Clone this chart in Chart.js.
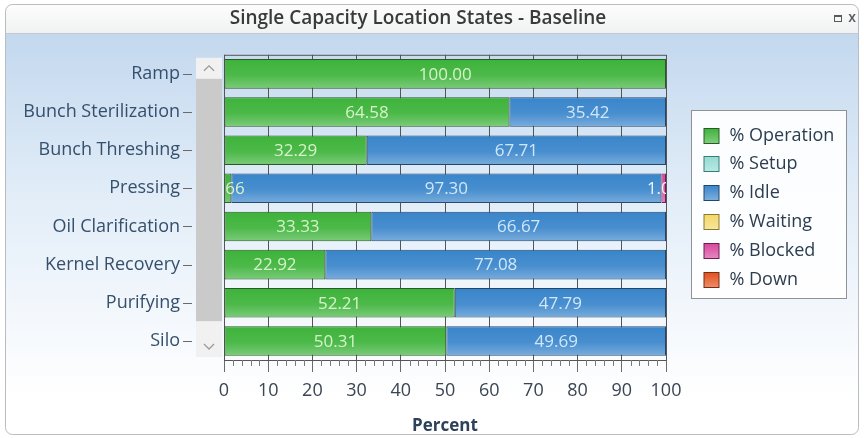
<!DOCTYPE html>
<html>
<head>
<meta charset="utf-8">
<script src="https://cdn.jsdelivr.net/npm/chart.js@4/dist/chart.umd.min.js"></script>
<style>
  html, body { margin: 0; padding: 0; background: #ffffff; }
  canvas { display: block; }
</style>
</head>
<body>
<canvas id="chart" width="864" height="438"></canvas>
<script>
// ---- data ----
const chartTitle = 'Single Capacity Location States - Baseline';
const locations = ['Ramp', 'Bunch Sterilization', 'Bunch Threshing', 'Pressing',
                   'Oil Clarification', 'Kernel Recovery', 'Purifying', 'Silo'];
const pctOperation = [100.00, 64.58, 32.29, 1.66, 33.33, 22.92, 52.21, 50.31];
const pctSetup     = [0, 0, 0, 0, 0, 0, 0, 0];
const pctIdle      = [0, 35.42, 67.71, 97.30, 66.67, 77.08, 47.79, 49.69];
const pctWaiting   = [0, 0, 0, 0, 0, 0, 0, 0];
const pctBlocked   = [0, 0, 0, 1.04, 0, 0, 0, 0];
const pctDown      = [0, 0, 0, 0, 0, 0, 0, 0];
const percentTicks = [0, 10, 20, 30, 40, 50, 60, 70, 80, 90, 100];

const FONT = '"Open Sans", "Noto Sans", sans-serif';

// state series: label, fill, outline, value-label colour
const states = [
  { label: '% Operation', data: pctOperation, fill: '#3db33a', line: '#2a5a27', text: '#d6f3cb' },
  { label: '% Setup',     data: pctSetup,     fill: '#93dcd5', line: '#3d7a75', text: '#ffffff' },
  { label: '% Idle',      data: pctIdle,      fill: '#3985cb', line: '#22476b', text: '#d0e7f8' },
  { label: '% Waiting',   data: pctWaiting,   fill: '#f3d868', line: '#8a7a30', text: '#ffffff' },
  { label: '% Blocked',   data: pctBlocked,   fill: '#d8479e', line: '#6a2050', text: '#f4f4f4' },
  { label: '% Down',      data: pctDown,      fill: '#e2501c', line: '#7a2a10', text: '#ffffff' }
];

// ---- window frame, title bar and background ----
function roundRectPath(ctx, x, y, w, h, r) {
  ctx.beginPath();
  ctx.moveTo(x + r, y);
  ctx.lineTo(x + w - r, y);
  ctx.arcTo(x + w, y, x + w, y + r, r);
  ctx.lineTo(x + w, y + h - r);
  ctx.arcTo(x + w, y + h, x + w - r, y + h, r);
  ctx.lineTo(x + r, y + h);
  ctx.arcTo(x, y + h, x, y + h - r, r);
  ctx.lineTo(x, y + r);
  ctx.arcTo(x, y, x + r, y, r);
  ctx.closePath();
}

const windowChrome = {
  id: 'windowChrome',
  beforeDraw(chart) {
    const { ctx, width, height } = chart;
    ctx.save();
    ctx.fillStyle = '#ffffff';
    ctx.fillRect(0, 0, width, height);

    const fx = 5.5, fy = 4.5, fw = width - 11, fh = height - 8, barH = 29;
    roundRectPath(ctx, fx, fy, fw, fh, 7);
    ctx.save();
    ctx.clip();
    const body = ctx.createLinearGradient(0, fy + barH, 0, height - 40);
    body.addColorStop(0, '#c3d8ee');
    body.addColorStop(0.45, '#e2edf8');
    body.addColorStop(1, '#ffffff');
    ctx.fillStyle = body;
    ctx.fillRect(0, 0, width, height);
    const bar = ctx.createLinearGradient(0, fy, 0, fy + barH);
    bar.addColorStop(0, '#fdfdfd');
    bar.addColorStop(1, '#f0f1f2');
    ctx.fillStyle = bar;
    ctx.fillRect(0, 0, width, fy + barH);
    ctx.strokeStyle = '#c5cad0';
    ctx.lineWidth = 1;
    ctx.beginPath();
    ctx.moveTo(0, fy + barH);
    ctx.lineTo(width, fy + barH);
    ctx.stroke();
    ctx.restore();

    roundRectPath(ctx, fx, fy, fw, fh, 7);
    ctx.strokeStyle = '#b9bdc2';
    ctx.lineWidth = 1;
    ctx.stroke();

    // title
    ctx.fillStyle = '#3a3a3a';
    ctx.font = '600 19px ' + FONT;
    ctx.textAlign = 'center';
    ctx.textBaseline = 'middle';
    ctx.fillText(chartTitle, 418, 19);

    // restore / close buttons
    ctx.strokeStyle = '#5a5a5a';
    ctx.lineWidth = 1;
    ctx.strokeRect(834.5, 15.5, 7, 6);
    ctx.fillStyle = '#5a5a5a';
    ctx.fillRect(834, 15, 8, 2);
    ctx.font = '600 14px ' + FONT;
    ctx.fillText('x', 852, 18);
    ctx.restore();
  }
};

// ---- scrollbar and category tick dashes beside the plot ----
const sideDecor = {
  id: 'sideDecor',
  afterDraw(chart) {
    const { ctx, chartArea } = chart;
    const yScale = chart.scales.y;
    const sx = chartArea.left - 28, sw = 26;
    const top = chartArea.top + 3, bottom = chartArea.bottom - 3;
    ctx.save();
    ctx.fillStyle = '#f1f1f1';
    ctx.fillRect(sx, top, sw, bottom - top);
    ctx.fillStyle = '#cacaca';
    ctx.fillRect(sx, top + 21, sw, (bottom - top) * 0.81);
    ctx.strokeStyle = '#9a9a9a';
    ctx.lineWidth = 1.3;
    const cx = sx + sw / 2;
    ctx.beginPath();
    ctx.moveTo(cx - 5, top + 13); ctx.lineTo(cx, top + 8); ctx.lineTo(cx + 5, top + 13);
    ctx.stroke();
    ctx.beginPath();
    ctx.moveTo(cx - 5, bottom - 13); ctx.lineTo(cx, bottom - 8); ctx.lineTo(cx + 5, bottom - 13);
    ctx.stroke();

    ctx.strokeStyle = '#6a6a6a';
    ctx.lineWidth = 1;
    yScale.ticks.forEach((t, i) => {
      const y = Math.round(yScale.getPixelForTick(i)) + 0.5;
      ctx.beginPath();
      ctx.moveTo(sx - 13, y);
      ctx.lineTo(sx - 4, y);
      ctx.stroke();
    });
    ctx.restore();
  }
};

// ---- minor ticks on the percent axis ----
const minorTicks = {
  id: 'minorTicks',
  afterDraw(chart) {
    const { ctx, chartArea } = chart;
    const xScale = chart.scales.x;
    ctx.save();
    ctx.strokeStyle = '#7a7a7a';
    ctx.lineWidth = 1;
    for (let v = 2; v < 100; v += 2) {
      if (v % 10 === 0) continue;
      const x = Math.round(xScale.getPixelForValue(v)) + 0.5;
      ctx.beginPath();
      ctx.moveTo(x, chartArea.bottom);
      ctx.lineTo(x, chartArea.bottom + 6);
      ctx.stroke();
    }
    ctx.restore();
  }
};

// ---- bar shading and value labels ----
const barLabels = {
  id: 'barLabels',
  afterDatasetsDraw(chart) {
    const { ctx, chartArea } = chart;
    ctx.save();
    ctx.beginPath();
    ctx.rect(chartArea.left, chartArea.top, chartArea.right - chartArea.left, chartArea.bottom - chartArea.top);
    ctx.clip();
    chart.data.datasets.forEach((ds, di) => {
      const meta = chart.getDatasetMeta(di);
      meta.data.forEach((el, i) => {
        const v = ds.data[i];
        if (!(v > 0)) return;
        const { x, y, base, height } = el.getProps(['x', 'y', 'base', 'height'], true);
        const l = Math.min(x, base), w = Math.abs(x - base);
        const g = ctx.createLinearGradient(0, y - height / 2, 0, y + height / 2);
        g.addColorStop(0, 'rgba(255,255,255,0.0)');
        g.addColorStop(0.55, 'rgba(255,255,255,0.08)');
        g.addColorStop(1, 'rgba(255,255,255,0.32)');
        ctx.fillStyle = g;
        ctx.fillRect(l + 1, y - height / 2 + 1, w - 2, height - 2);
      });
    });
    ctx.font = '17px ' + FONT;
    ctx.textAlign = 'center';
    ctx.textBaseline = 'middle';
    chart.data.datasets.forEach((ds, di) => {
      const meta = chart.getDatasetMeta(di);
      meta.data.forEach((el, i) => {
        const v = ds.data[i];
        if (!(v > 0)) return;
        const { x, y, base } = el.getProps(['x', 'y', 'base'], true);
        ctx.fillStyle = states[di].text;
        ctx.fillText(v.toFixed(2), (x + base) / 2, y + 1);
      });
    });
    ctx.restore();
  }
};

// ---- plot border ----
const plotFrame = {
  id: 'plotFrame',
  beforeDatasetsDraw(chart) {
    const { ctx, chartArea } = chart;
    ctx.save();
    ctx.strokeStyle = '#555555';
    ctx.lineWidth = 1;
    ctx.beginPath();
    ctx.moveTo(chartArea.left, chartArea.top + 0.5);
    ctx.lineTo(chartArea.right, chartArea.top + 0.5);
    ctx.stroke();
    ctx.restore();
  }
};

// ---- legend box ----
const stateLegend = {
  id: 'stateLegend',
  afterDraw(chart) {
    const { ctx, chartArea } = chart;
    const bx = chartArea.right + 25.5, bw = 155;
    const rowH = 28.8;
    const bh = 188;
    const by = 110.5;
    ctx.save();
    ctx.fillStyle = 'rgba(255,255,255,0.9)';
    ctx.fillRect(bx, by, bw, bh);
    ctx.strokeStyle = '#8e9297';
    ctx.lineWidth = 1;
    ctx.strokeRect(bx, by, bw, bh);
    ctx.font = '18px ' + FONT;
    ctx.textAlign = 'left';
    ctx.textBaseline = 'middle';
    chart.data.datasets.forEach((ds, i) => {
      const cy = by + 25 + i * rowH;
      const sx = bx + 12.5, sy = Math.round(cy - 8) + 0.5;
      ctx.fillStyle = ds.backgroundColor;
      ctx.fillRect(sx, sy, 15, 15);
      const g = ctx.createLinearGradient(0, sy, 0, sy + 15);
      g.addColorStop(0, 'rgba(255,255,255,0)');
      g.addColorStop(1, 'rgba(255,255,255,0.35)');
      ctx.fillStyle = g;
      ctx.fillRect(sx, sy, 15, 15);
      ctx.strokeStyle = states[i].line;
      ctx.strokeRect(sx, sy, 15, 15);
      ctx.fillStyle = '#2c3d4f';
      ctx.fillText(ds.label, bx + 38, cy);
    });
    ctx.restore();
  }
};

const datasets = states.map(s => ({
  label: s.label,
  data: s.data,
  backgroundColor: s.fill,
  borderColor: s.line,
  borderWidth: c => (c.raw > 0 ? 1 : 0),
  borderSkipped: false,
  barPercentage: 0.9,
  categoryPercentage: 0.86
}));

new Chart(document.getElementById('chart'), {
  type: 'bar',
  data: { labels: locations, datasets },
  options: {
    indexAxis: 'y',
    responsive: false,
    animation: false,
    events: [],
    layout: { padding: { top: 48, left: 0, right: 198, bottom: 0 } },
    plugins: {
      legend: { display: false },
      title: { display: false },
      tooltip: { enabled: false }
    },
    scales: {
      x: {
        stacked: true,
        min: 0,
        max: 100,
        afterBuildTicks: scale => { scale.ticks = percentTicks.map(v => ({ value: v })); },
        afterFit: scale => { scale.height = 78; },
        grid: { color: '#555555', lineWidth: 1, drawTicks: true, tickLength: 12, tickColor: '#6a6a6a' },
        border: { display: true, color: '#555555' },
        ticks: { color: '#3a4553', font: { family: FONT, size: 18 }, padding: 8, maxRotation: 0 },
        title: {
          display: true,
          text: 'Percent',
          color: '#2d4259',
          font: { family: FONT, size: 17, weight: 'bold' },
          padding: { top: 0, bottom: 2 }
        }
      },
      y: {
        stacked: true,
        afterFit: scale => { scale.width = 224; },
        grid: { display: false, drawTicks: false },
        border: { display: false },
        ticks: { color: '#35506c', font: { family: FONT, size: 18 }, padding: 44 }
      }
    }
  },
  plugins: [windowChrome, plotFrame, barLabels, sideDecor, minorTicks, stateLegend]
});
</script>
</body>
</html>
